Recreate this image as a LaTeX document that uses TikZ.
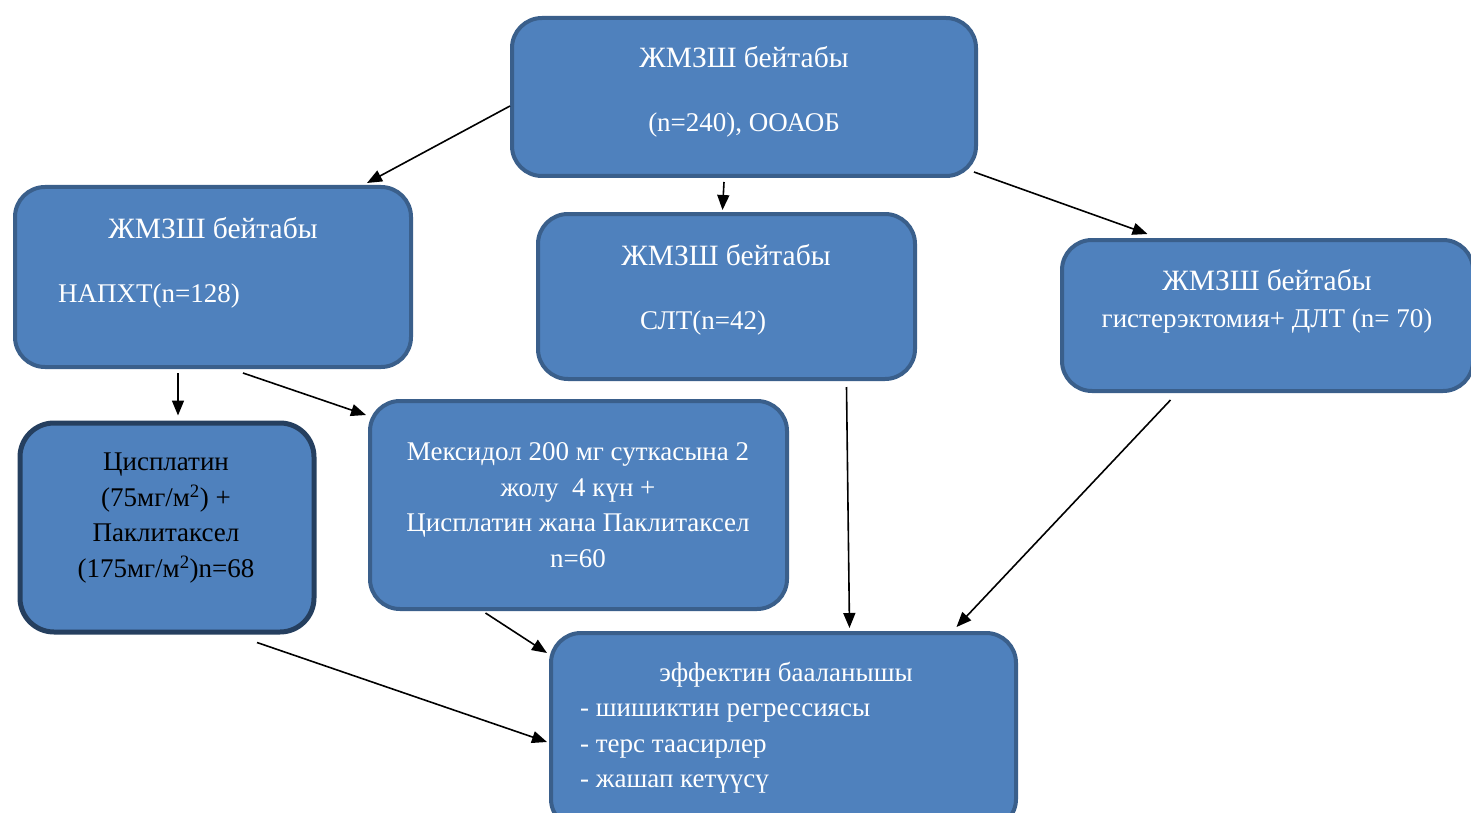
\documentclass[tikz,border=0pt]{standalone}
\usepackage{fontspec}
\setmainfont{Liberation Serif}
\usetikzlibrary{arrows.meta}
\definecolor{boxfill}{HTML}{4F81BD}
\definecolor{boxline}{HTML}{3A5F8B}
\definecolor{darkline}{HTML}{253F5F}
\begin{document}
\begin{tikzpicture}[x=1pt,y=-1pt,
  box/.style={draw=boxline,fill=boxfill,line width=4pt,rounded corners=30pt,inner sep=0pt},
  dbox/.style={box,draw=darkline,line width=5pt,rounded corners=34pt},
  wtxt/.style={text=white,inner sep=0pt,font=\fontsize{27}{35.5}\selectfont},
  htxt/.style={wtxt,font=\fontsize{29.5}{35.5}\selectfont},
  btxt/.style={text=black,inner sep=0pt,font=\fontsize{27}{35.5}\selectfont},
  arr/.style={draw=black,line width=1.6pt,-{Triangle[length=15pt,width=12pt]}}]
\useasboundingbox (0,0) rectangle (1471,813);
\fill[white] (0,0) rectangle (1471,813);
% boxes
\node[box,minimum width=464pt,minimum height=158pt] (top) at (744,97) {};
\node[box,minimum width=396pt,minimum height=180pt] (napkht) at (213,277) {};
\node[box,minimum width=377pt,minimum height=165pt] (slt) at (726.5,296.5) {};
\node[box,minimum width=411pt,minimum height=151pt] (right) at (1267.5,315.5) {};
\node[dbox,minimum width=294pt,minimum height=209pt] (cis) at (167,527.5) {};
\node[box,minimum width=417pt,minimum height=208pt] (mex) at (578.5,505) {};
\node[box,minimum width=465pt,minimum height=196pt] (eff) at (783.5,731) {};
% texts
\node[htxt,anchor=base] (t1) at (744,68) {ЖМЗШ бейтабы};
\node[wtxt,anchor=base] (t2) at (744,132) {(n=240), ООАОБ};
\node[htxt,anchor=base] (n1) at (213,238) {ЖМЗШ бейтабы};
\node[wtxt,anchor=base west] (n2) at (58,302) {НАПХТ(n=128)};
\node[htxt,anchor=base] (s1) at (726,265) {ЖМЗШ бейтабы};
\node[wtxt,anchor=base west] (s2) at (640,329) {СЛТ(n=42)};
\node[htxt,anchor=base] (r1) at (1267,290) {ЖМЗШ бейтабы};
\node[wtxt,anchor=base] (r2) at (1267,327) {гистерэктомия+ ДЛТ (n= 70)};
\node[btxt,align=center] (c1) at (166,518) {Цисплатин\\(75мг/м\textsuperscript{2}) +\\Паклитаксел\\(175мг/м\textsuperscript{2})n=68};
\node[wtxt,align=center] (m1) at (578,505) {Мексидол 200 мг суткасына 2\\жолу~~4 күн +\\Цисплатин жана Паклитаксел\\n=60};
\node[wtxt,anchor=base] (e1) at (786,681) {эффектин бааланышы};
\node[wtxt,align=left,anchor=north west] (e2) at (580,704) {- шишиктин регрессиясы\\- терс таасирлер\\- жашап кетүүсү};
% arrows
\draw[arr] ([yshift=-9pt]top.west) -- ([xshift=154pt,yshift=2pt]napkht.north);
\draw[arr] ([xshift=-20pt,yshift=-4pt]top.south) -- ([xshift=-4pt,yshift=2pt]slt.north);
\draw[arr] ([xshift=-4pt,yshift=6pt]top.south east) -- ([xshift=-120pt,yshift=4pt]right.north);
\draw[arr] ([xshift=-35pt,yshift=-4pt]napkht.south) -- ([xshift=11pt,yshift=5pt]cis.north);
\draw[arr] ([xshift=30pt,yshift=-4pt]napkht.south) -- ([xshift=-2pt,yshift=-16pt]mex.north west);
\draw[arr] ([xshift=120pt,yshift=-6pt]slt.south) -- ([xshift=66pt,yshift=3pt]eff.north);
\draw[arr] ([xshift=-97pt,yshift=-7pt]right.south) -- ([xshift=173pt,yshift=4pt]eff.north);
\draw[arr] ([xshift=-93pt,yshift=-2pt]mex.south) -- ([xshift=-2pt,yshift=-22pt]eff.north west);
\draw[arr] ([xshift=90pt,yshift=-8pt]cis.south) -- ([xshift=-2pt,yshift=-11pt]eff.west);
\end{tikzpicture}
\end{document}
